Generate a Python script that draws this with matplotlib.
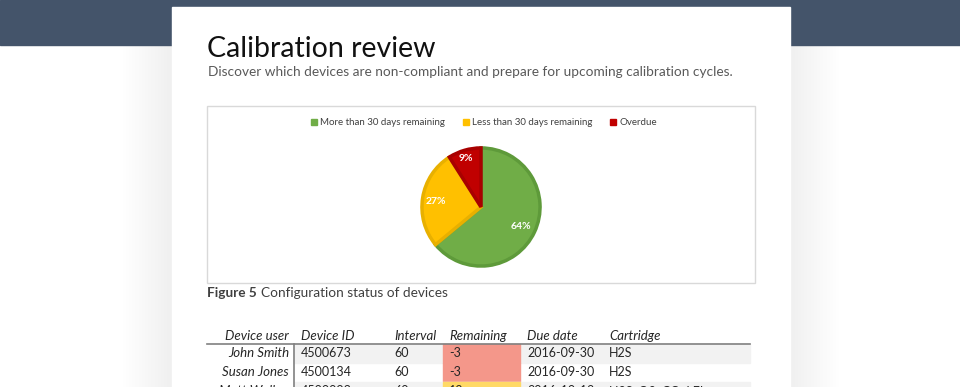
import matplotlib.pyplot as plt
from matplotlib.patches import Rectangle
import numpy as np

plt.rcParams['font.family'] = ['Lato', 'DejaVu Sans']

# pie data
labels = ['More than 30 days remaining', 'Less than 30 days remaining', 'Overdue']
shares = [64, 27, 9]
colors = ['#70AD47', '#FFC000', '#C00000']
edges = ['#5E9A3A', '#E8B000', '#A80000']

# table data
columns = ['Device user', 'Device ID', 'Interval', 'Remaining', 'Due date', 'Cartridge']
users = ['John Smith', 'Susan Jones', 'Matt Walker']
device_ids = ['4500673', '4500134', '4500093']
intervals = [60, 60, 60]
remaining = [-3, -3, 12]
due_dates = ['2016-09-30', '2016-09-30', '2016-10-12']
cartridges = ['H2S', 'H2S', 'H2S, O2, CO, LEL']

W, H = 960, 387
fig = plt.figure(figsize=(9.6, 3.87), dpi=100)
bg = fig.add_axes([0, 0, 1, 1])
bg.set_xlim(0, W)
bg.set_ylim(H, 0)
bg.axis('off')

# backdrop: header band and soft shadow around the page
grad = np.linspace(0.94, 1.0, 50).reshape(1, -1)
bg.imshow(np.dstack([grad] * 3), extent=[790, 840, H, 45], aspect='auto', zorder=0)
bg.imshow(np.dstack([grad[:, ::-1]] * 3), extent=[122, 172, H, 45], aspect='auto', zorder=0)
bg.add_patch(Rectangle((0, 0), W, 45, color='#44546A', zorder=1))
bg.add_patch(Rectangle((172, 7), 618, H, color='white', zorder=2))

# headline
bg.text(207, 57, 'Calibration review', fontsize=20.5, color='#111111', zorder=3)
bg.text(208, 76, 'Discover which devices are non-compliant and prepare for upcoming calibration cycles.',
        fontsize=9.8, color='#595959', zorder=3)

# chart frame
bg.add_patch(Rectangle((207, 106), 548, 177, fill=False, edgecolor='#D9D9D9', lw=1, zorder=3))

# legend
lx = [311, 463, 610]
for x, lab, c in zip(lx, labels, colors):
    bg.add_patch(Rectangle((x, 119), 6, 6, color=c, zorder=3))
    bg.text(x + 9, 122.5, lab, fontsize=7, color='#404040', va='center', zorder=3)

# pie
r = 62
cx, cy = 481, 207
pax = fig.add_axes([(cx - r) / W, (H - cy - r) / H, 2 * r / W, 2 * r / H])
wedges, texts, autotexts = pax.pie(shares, colors=colors, startangle=90, counterclock=False,
                                   autopct='%d%%', pctdistance=0.62,
                                   wedgeprops=dict(linewidth=2.5),
                                   textprops=dict(color='white', fontsize=7.5, fontweight='bold'))
for w, e in zip(wedges, edges):
    w.set_edgecolor(e)
autotexts[0].set_position((0.68, -0.33))
autotexts[1].set_position((-0.77, 0.1))
autotexts[2].set_position((-0.25, 0.82))
pax.set_xlim(-1.05, 1.05)
pax.set_ylim(-1.05, 1.05)
pax.axis('off')

# caption
bg.text(207, 293, 'Figure 5', fontsize=9.8, fontweight='bold', color='#404040', va='center', zorder=3)
bg.text(261, 293, 'Configuration status of devices', fontsize=9.8, color='#404040', va='center', zorder=3)

# table
col_x = [289, 301, 394, 449, 527, 609]
header_y = 336
row_h = 19
first_row = 353
for i, (name, x) in enumerate(zip(columns, col_x)):
    bg.text(x, header_y, name, fontsize=9.5, style='italic', color='#262626',
            ha='right' if i == 0 else 'left', va='center', zorder=4)
bg.plot([207, 750], [344, 344], color='#808080', lw=1.2, zorder=4)
bg.plot([294, 294], [344, H], color='#808080', lw=1.2, zorder=4)

for k in range(len(users)):
    y = first_row + k * row_h
    if k % 2 == 0:
        bg.add_patch(Rectangle((294, y - row_h / 2), 456, row_h, color='#F2F2F2', zorder=3))
    cell = '#F4978A' if remaining[k] < 0 else '#FFD966'
    bg.add_patch(Rectangle((443, y - row_h / 2), 77, row_h, color=cell, zorder=3))
    vals = [users[k], device_ids[k], str(intervals[k]), str(remaining[k]), due_dates[k], cartridges[k]]
    for i, (v, x) in enumerate(zip(vals, col_x)):
        bg.text(x, y, v, fontsize=9.5 if i == 0 else 9, color='#262626',
                style='italic' if i == 0 else 'normal',
                ha='right' if i == 0 else 'left', va='center', zorder=4)

fig.savefig('out.png', dpi=100)
